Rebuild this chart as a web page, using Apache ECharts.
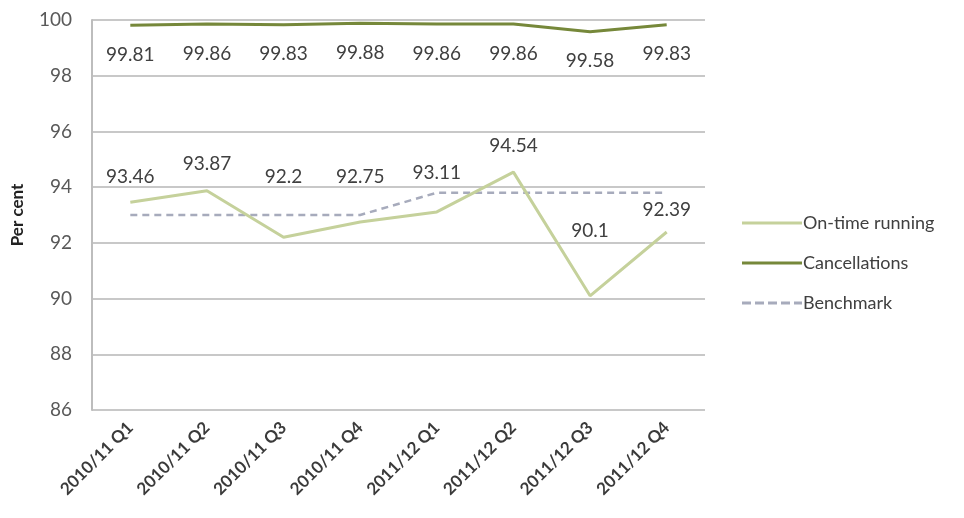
<!DOCTYPE html>
<html><head><meta charset="utf-8">
<script src="https://cdn.jsdelivr.net/npm/echarts@6/dist/echarts.min.js"></script>
<style>html,body{margin:0;padding:0;background:#fff}#c{width:964px;height:518px}</style>
</head><body><div id="c"></div>
<script>
var categories = ['2010/11 Q1','2010/11 Q2','2010/11 Q3','2010/11 Q4','2011/12 Q1','2011/12 Q2','2011/12 Q3','2011/12 Q4'];
var onTime = [93.46, 93.87, 92.2, 92.75, 93.11, 94.54, 90.1, 92.39];
var cancellations = [99.81, 99.86, 99.83, 99.88, 99.86, 99.86, 99.58, 99.83];
var benchmark = [93, 93, 93, 93, 93.8, 93.8, 93.8, 93.8];
var yTicks = {min: 86, max: 100, interval: 2};

// label placement (style only): vertical offsets in px for on-time labels
var onTimeLabelDy = [-26, -27, -61, -46, -40, -27, -65, -23];

var chart = echarts.init(document.getElementById('c'));
var font = 'Lato, "Open Sans", sans-serif';
chart.setOption({
  animation: false,
  textStyle: {fontFamily: font},
  grid: {left: 92, right: 259, top: 20, bottom: 108},
  legend: {
    orient: 'vertical', left: 737, top: 209, itemGap: 22, itemWidth: 60, itemHeight: 22,
    textStyle: {fontFamily: font, fontSize: 18, color: '#404040', padding: [0,0,0,-4]},
    data: [
      {name: 'On-time running', icon: 'path://M0,0 H60 V3 H0 Z', itemStyle: {color: '#c5d19b'}},
      {name: 'Cancellations', icon: 'path://M0,0 H60 V3 H0 Z', itemStyle: {color: '#76883a'}},
      {name: 'Benchmark', icon: 'path://M0,0 H9 V3 H0 Z M13,0 H22 V3 H13 Z M26,0 H35 V3 H26 Z M39,0 H48 V3 H39 Z M52,0 H60 V3 H52 Z', itemStyle: {color: '#a7abbc'}}
    ]
  },
  xAxis: {
    type: 'category', data: categories, boundaryGap: true,
    axisLine: {show: false}, axisTick: {show: false},
    axisLabel: {rotate: 45, fontFamily: font, fontSize: 17, fontWeight: 'bold', color: '#3a3a3a', margin: 15, interval: 0}
  },
  yAxis: {
    type: 'value', min: yTicks.min, max: yTicks.max, interval: yTicks.interval,
    name: 'Per cent', nameLocation: 'middle', nameGap: 66, nameRotate: 90,
    nameTextStyle: {fontFamily: font, fontSize: 17, fontWeight: 'bold', color: '#222'},
    axisLine: {show: true, lineStyle: {color: '#bdbdbd', width: 2}},
    axisTick: {show: false},
    splitLine: {lineStyle: {color: '#c8c8c8', width: 2}},
    axisLabel: {fontFamily: font, fontSize: 19, color: '#595959', margin: 20}
  },
  series: [
    {
      name: 'On-time running', type: 'line', data: onTime.map(function(v, i){
        return {value: v, label: {offset: [0, onTimeLabelDy[i] + 10]}};
      }),
      symbol: 'circle', symbolSize: 0, showSymbol: true,
      lineStyle: {color: '#c5d19b', width: 3}, itemStyle: {color: '#c5d19b'},
      label: {show: true, position: 'top', distance: 0, fontFamily: font, fontSize: 19, color: '#404040'},
      z: 3
    },
    {
      name: 'Cancellations', type: 'line', data: cancellations,
      symbol: 'circle', symbolSize: 0, showSymbol: true,
      lineStyle: {color: '#76883a', width: 3}, itemStyle: {color: '#76883a'},
      label: {show: true, position: 'bottom', distance: 20, fontFamily: font, fontSize: 19, color: '#404040'},
      z: 3
    },
    {
      name: 'Benchmark', type: 'line', data: benchmark,
      symbol: 'none', lineStyle: {color: '#a7abbc', width: 2.5, type: [7, 5]}, itemStyle: {color: '#a7abbc'},
      z: 2
    }
  ]
});
</script></body></html>
